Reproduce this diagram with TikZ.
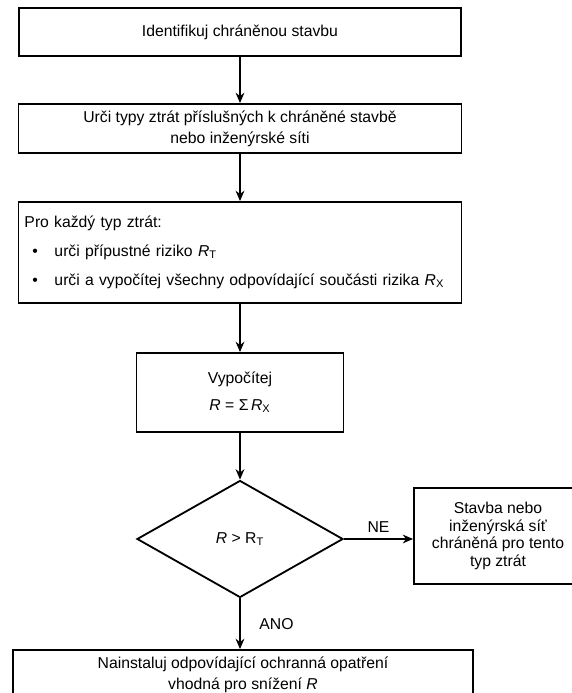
\documentclass[tikz,border=0pt]{standalone}
\usepackage{fontspec}
\setmainfont{Liberation Sans}
\usetikzlibrary{arrows.meta, positioning, shapes.geometric, calc}
\tikzset{
  every picture/.style={line width=1.3pt},
  box/.style={draw, rectangle, align=center, inner xsep=0.15cm, font=\fontsize{11.2}{14.9}\selectfont},
  decision/.style={draw, diamond, inner sep=0pt, minimum width=5.15cm, minimum height=2.925cm, font=\fontsize{11.2}{14.9}\selectfont},
  arrow/.style={-{Stealth[length=2.6mm, width=2.2mm]}, line width=1pt},
  tag/.style={font=\fontsize{11.2}{14.9}\selectfont},
}
\newcommand{\Rsub}[1]{\textit{R}\textsubscript{#1}}

\begin{document}
\begin{tikzpicture}
  \useasboundingbox (0,0) rectangle (14.3,17.325);
  \node[box, minimum width=11.05cm, minimum height=1.2cm] (ident) at (6.0,16.525) {Identifikuj chráněnou stavbu};
  \node[box, minimum width=11.075cm, minimum height=1.225cm] (types) at (6.0,14.1125)
    {Urči typy ztrát příslušných k chráněné stavbě\\nebo inženýrské síti};
  % per-loss-type block, left aligned with bullets
  \node[box, align=left, text width=10.775cm, minimum height=2.525cm] (each) at (6.0,11.0125)
    {Pro každý typ ztrát:\\[5.7pt]
     \hspace*{0.2cm}\makebox[0.55cm][l]{\textbullet}urči přípustné riziko \Rsub{T}\\[5.7pt]
     \hspace*{0.2cm}\makebox[0.55cm][l]{\textbullet}urči a vypočítej všechny odpovídající součásti rizika \Rsub{X}};
  \node[box, minimum width=5.175cm, minimum height=1.975cm] (calc) at (6.0,7.5125)
    {Vypočítej\\[4.3pt]\textit{R} = Σ\,\Rsub{X}};
  \node[decision] (test) at (6.0,3.85) {\textit{R} > R\textsubscript{T}};
  \node[box, minimum width=4.2cm, minimum height=2.4cm, font=\fontsize{11.2}{12.4}\selectfont] (safe) at (12.45,3.925)
    {Stavba nebo\\inženýrská síť\\chráněná pro tento\\typ ztrát};
  \node[box, minimum width=11.5cm, minimum height=1.25cm] (protect) at (6.075,0.45)
    {Nainstaluj odpovídající ochranná opatření\\vhodná pro snížení \textit{R}};

  \draw[arrow] (ident) -- (types);
  \draw[arrow] (types) -- (each);
  \draw[arrow] (each) -- (calc);
  \draw[arrow] (calc) -- (test);
  \draw[arrow] (test.east) -- (test.east -| safe.west) node[tag, midway, above=1pt] {NE};
  \draw[arrow] (test.south) -- (test.south |- protect.north) node[tag, midway, right=0.35cm] {ANO};
\end{tikzpicture}
\end{document}
